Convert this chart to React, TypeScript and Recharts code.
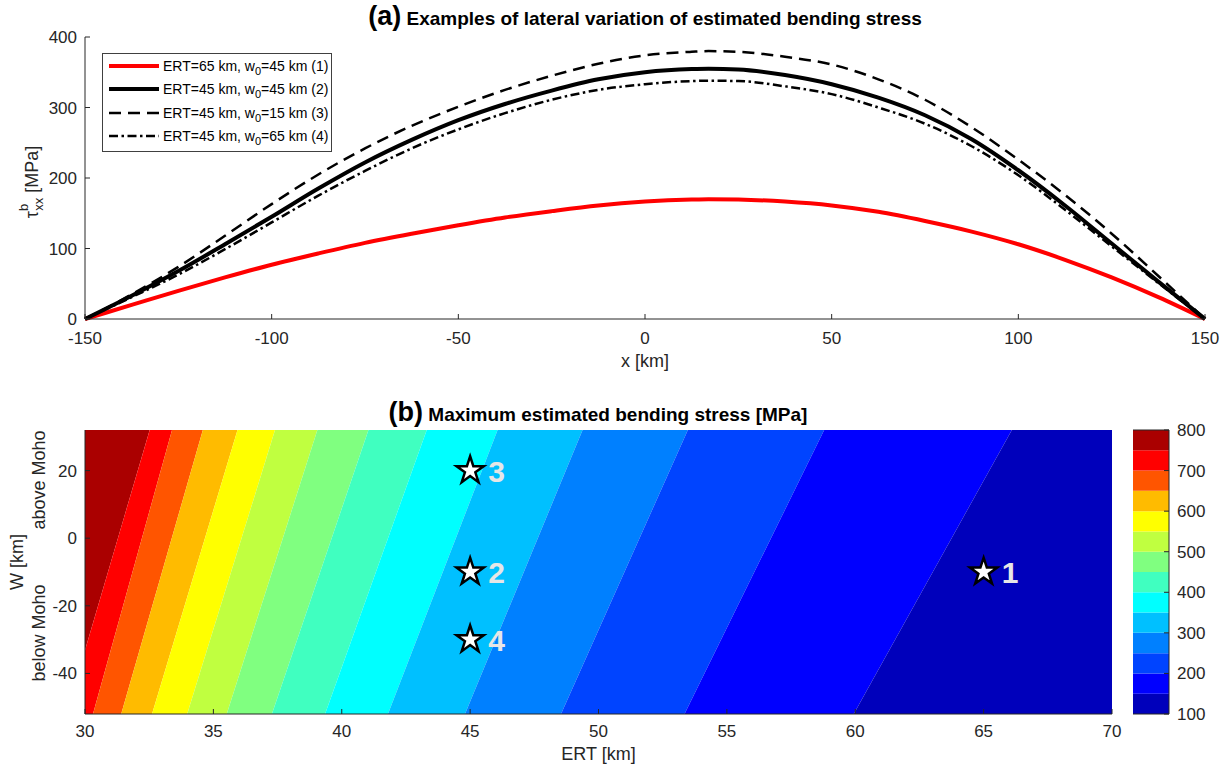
import React from "react";
import {
  LineChart,
  Line,
  XAxis,
  YAxis,
  Legend,
  ComposedChart,
  Area,
  Scatter,
  BarChart,
  Bar,
  ReferenceLine,
  Symbols,
} from "recharts";

const FONT = "Arial, 'Liberation Sans', Helvetica, sans-serif";
const INK = "#262626";

// (a) lateral profiles of bending stress [MPa] vs x [km]
const X_KM = [
  -150, -137.5, -125, -112.5, -100, -87.5, -75, -62.5, -50, -37.5, -25, -12.5, 0,
  12.5, 17, 25, 37.5, 50, 62.5, 75, 87.5, 100, 112.5, 125, 137.5, 150,
];
const TAU_1 = [0, 20, 40, 59, 77, 93, 108, 121, 133, 144, 153, 161, 166.5, 169.5, 170, 169.5, 166.5, 161, 152, 139, 124, 106, 84, 59, 31, 0];
const TAU_2 = [0, 33, 68, 106, 145, 185, 222, 254, 282, 305, 324, 340, 350, 354.5, 355, 354, 346, 333, 314, 289, 255, 211, 161, 107, 53, 0];
const TAU_3 = [0, 35, 74, 118, 163, 205, 242, 274, 301, 325, 345, 362, 374, 379, 380, 379, 372, 361, 340, 311, 272, 226, 176, 121, 61, 0];
const TAU_4 = [0, 31, 63, 99, 137, 175, 210, 242, 269, 292, 311, 325, 333, 337.5, 338, 337.5, 330, 319, 300, 277, 245, 204, 155, 103, 51, 0];
const X_TICKS = [-150, -100, -50, 0, 50, 100, 150];
const TAU_TICKS = [0, 100, 200, 300, 400];

const LEGEND_ERT = [65, 45, 45, 45];
const LEGEND_W0 = [45, 45, 15, 65];

// (b) contour boundaries (ERT km) at the bottom (W=-52) and top (W=32) of the panel, left to right
const W_ENDS = [-52, 32];
const EDGE_BOTTOM = [29.27, 30.31, 31.41, 32.61, 33.98, 35.52, 37.28, 39.35, 41.8, 44.8, 48.54, 53.35, 59.94];
const EDGE_TOP = [32.52, 33.39, 34.59, 35.94, 37.4, 39.05, 41.04, 43.31, 46.07, 49.38, 53.48, 58.79, 66.1];
const ERT_TICKS = [30, 35, 40, 45, 50, 55, 60, 65, 70];
const W_TICKS = [-40, -20, 0, 20];

const STAR_ERT = [65, 45, 45, 45];
const STAR_W = [-10, -10, 20, -30];
const STAR_LABEL = ["1", "2", "3", "4"];

// colour levels, low -> high
const LEVELS = [100, 150, 200, 250, 300, 350, 400, 450, 500, 550, 600, 650, 700, 750, 800];
const LEVEL_COLORS = [
  "#0000BB", "#0000FF", "#0044FF", "#0080FF", "#00C0FF", "#00FFFF", "#40FFC0",
  "#80FF80", "#C0FF40", "#FFFF00", "#FFBB00", "#FF5500", "#FF0000", "#AA0000",
];
const CB_TICKS = [100, 200, 300, 400, 500, 600, 700, 800];

const SERIES = [
  { key: "t1", color: "#ff0000", width: 4, dash: undefined as string | undefined },
  { key: "t2", color: "#000000", width: 4, dash: undefined },
  { key: "t3", color: "#000000", width: 2.5, dash: "12 7" },
  { key: "t4", color: "#000000", width: 2.5, dash: "9 3.5 2.5 3.5" },
];

const profileData = X_KM.map((x, i) => ({ x, t1: TAU_1[i], t2: TAU_2[i], t3: TAU_3[i], t4: TAU_4[i] }));

const NB = LEVEL_COLORS.length;
const contourData = W_ENDS.map((w, r) => {
  const edges = r === 0 ? EDGE_BOTTOM : EDGE_TOP;
  const row: Record<string, any> = { w };
  for (let j = 0; j < NB; j++) {
    const lo = j === 0 ? 20 : edges[j - 1];
    const hi = j === NB - 1 ? 80 : edges[j];
    row["b" + j] = [lo, hi];
  }
  return row;
});

const starData = STAR_ERT.map((ert, i) => ({ ert, w: STAR_W[i], label: STAR_LABEL[i] }));

const cbRow: Record<string, any> = { c: "cb", base: LEVELS[0] };
LEVEL_COLORS.forEach((_, i) => {
  cbRow["l" + i] = LEVELS[i + 1] - LEVELS[i];
});
const cbData = [cbRow];

const tickStyle = { fill: INK, fontSize: 17, fontFamily: FONT };

const ProfileLegend = () => (
  <div
    style={{
      border: "1px solid #404040",
      background: "#fff",
      width: 230,
      padding: "0 0 3px 0",
      fontFamily: FONT,
      fontSize: 14,
      color: "#000",
      boxSizing: "border-box",
    }}
  >
    {SERIES.map((s, i) => (
      <div key={s.key} style={{ display: "flex", alignItems: "center", height: 23.5 }}>
        <svg width={60} height={10} style={{ flex: "none" }}>
          <line x1={6} x2={56} y1={5} y2={5} stroke={s.color} strokeWidth={s.width} strokeDasharray={s.dash} />
        </svg>
        <span style={{ whiteSpace: "nowrap" }}>
          ERT={LEGEND_ERT[i]} km, w<sub style={{ fontSize: 11, lineHeight: 0 }}>0</sub>={LEGEND_W0[i]} km ({i + 1})
        </span>
      </div>
    ))}
  </div>
);

const TauLabel = () => (
  <text transform="translate(38,182) rotate(-90)" textAnchor="middle" fill={INK} fontFamily={FONT} fontSize={18}>
    <tspan>τ</tspan>
    <tspan fontSize={13} dy={-10}>b</tspan>
    <tspan fontSize={13} dx={-7} dy={15}>xx</tspan>
    <tspan dy={-5}> [MPa]</tspan>
  </text>
);

const WLabel = () => (
  <g fill={INK} fontFamily={FONT} fontSize={18}>
    <text transform="translate(23,162) rotate(-90)" textAnchor="middle">W [km]</text>
    <text transform="translate(45,80) rotate(-90)" textAnchor="middle">above Moho</text>
    <text transform="translate(45,233) rotate(-90)" textAnchor="middle">below Moho</text>
  </g>
);

const renderStar = (props: any) => {
  const { cx, cy, payload } = props;
  return (
    <g>
      <Symbols cx={cx} cy={cy} type="star" size={230} fill="#ffffff" stroke="#000000" strokeWidth={2.5} />
      <text x={cx + 18} y={cy + 11} fill="#e6e6e6" fontSize={30} fontWeight="bold" fontFamily={FONT}>
        {payload.label}
      </text>
    </g>
  );
};

export default function App() {
  return (
    <div style={{ position: "absolute", left: 0, top: 0, width: 1226, height: 769, background: "#fff" }}>
      {/* titles */}
      <svg width={1226} height={769} style={{ position: "absolute", left: 0, top: 0 }}>
        <text x={645} y={25} textAnchor="middle" fontFamily={FONT} fontWeight="bold" fill="#000">
          <tspan fontSize={27}>(a)</tspan>
          <tspan fontSize={19}> Examples of lateral variation of estimated bending stress</tspan>
        </text>
        <text x={598} y={421} textAnchor="middle" fontFamily={FONT} fontWeight="bold" fill="#000">
          <tspan fontSize={27}>(b)</tspan>
          <tspan fontSize={19}> Maximum estimated bending stress [MPa]</tspan>
        </text>
      </svg>

      {/* (a) */}
      <div style={{ position: "absolute", left: 0, top: 0 }}>
        <LineChart width={1226} height={380} data={profileData} margin={{ top: 37, right: 21, bottom: 1, left: 25 }}>
          <XAxis
            dataKey="x"
            type="number"
            domain={[-150, 150]}
            ticks={X_TICKS}
            interval={0}
            height={60}
            stroke={INK}
            tickSize={-5}
            tickMargin={18}
            tick={tickStyle}
            label={{ value: "x [km]", position: "insideBottom", offset: 12, fill: INK, fontSize: 18, fontFamily: FONT }}
          />
          <XAxis
            xAxisId="top"
            orientation="top"
            dataKey="x"
            type="number"
            domain={[-150, 150]}
            ticks={X_TICKS}
            height={0}
            stroke={INK}
            tickSize={-5}
            tick={false}
          />
          <YAxis
            type="number"
            domain={[0, 400]}
            ticks={TAU_TICKS}
            interval={0}
            width={60}
            stroke={INK}
            tickSize={-5}
            tickMargin={13}
            tick={tickStyle}
            label={<TauLabel />}
          />
          <YAxis
            yAxisId="right"
            orientation="right"
            type="number"
            domain={[0, 400]}
            ticks={TAU_TICKS}
            width={0}
            stroke={INK}
            tickSize={-5}
            tick={false}
          />
          <Legend
            layout="vertical"
            align="center"
            verticalAlign="middle"
            content={<ProfileLegend />}
            wrapperStyle={{ left: 102, top: 53, width: 230, height: 98 }}
          />
          {SERIES.map((s) => (
            <Line
              key={s.key}
              dataKey={s.key}
              type="monotone"
              stroke={s.color}
              strokeWidth={s.width}
              strokeDasharray={s.dash}
              dot={false}
              activeDot={false}
              isAnimationActive={false}
            />
          ))}
        </LineChart>
      </div>

      {/* (b) */}
      <div style={{ position: "absolute", left: 0, top: 400 }}>
        <ComposedChart
          layout="vertical"
          width={1226}
          height={369}
          data={contourData}
          margin={{ top: 30, right: 114, bottom: 5, left: 25 }}
        >
          <XAxis
            type="number"
            domain={[30, 70]}
            ticks={ERT_TICKS}
            interval={0}
            allowDataOverflow
            height={50}
            stroke={INK}
            tickSize={-5}
            tickMargin={16}
            tick={tickStyle}
            label={{ value: "ERT [km]", position: "insideBottom", offset: 4, fill: INK, fontSize: 18, fontFamily: FONT }}
          />
          <XAxis
            xAxisId="top"
            orientation="top"
            type="number"
            domain={[30, 70]}
            ticks={ERT_TICKS}
            allowDataOverflow
            height={0}
            stroke={INK}
            tickSize={-5}
            tick={false}
          />
          <YAxis
            type="number"
            dataKey="w"
            domain={[-52, 32]}
            ticks={W_TICKS}
            interval={0}
            reversed
            allowDataOverflow
            width={60}
            stroke={INK}
            tickSize={-5}
            tickMargin={13}
            tick={tickStyle}
            label={<WLabel />}
          />
          <YAxis
            yAxisId="right"
            orientation="right"
            type="number"
            dataKey="w"
            domain={[-52, 32]}
            ticks={W_TICKS}
            reversed
            allowDataOverflow
            width={0}
            stroke={INK}
            tickSize={-5}
            tick={false}
          />
          {LEVEL_COLORS.map((_, j) => (
            <Area
              key={"b" + j}
              dataKey={"b" + j}
              type="linear"
              fill={LEVEL_COLORS[NB - 1 - j]}
              fillOpacity={1}
              stroke="none"
              isAnimationActive={false}
            />
          ))}
          <Scatter data={starData} dataKey="ert" shape={renderStar} isAnimationActive={false} />
        </ComposedChart>
      </div>

      {/* colour bar */}
      <div style={{ position: "absolute", left: 1100, top: 400 }}>
        <BarChart
          width={126}
          height={369}
          data={cbData}
          margin={{ top: 30, right: 0, bottom: 55, left: 33 }}
          barCategoryGap={0}
        >
          <XAxis dataKey="c" hide />
          <YAxis
            orientation="right"
            type="number"
            domain={[100, 800]}
            ticks={CB_TICKS}
            interval={0}
            allowDataOverflow
            width={57}
            stroke={INK}
            tickSize={-5}
            tickMargin={13}
            tick={tickStyle}
          />
          <YAxis
            yAxisId="l"
            orientation="left"
            type="number"
            domain={[100, 800]}
            allowDataOverflow
            width={0}
            stroke={INK}
            tick={false}
            tickLine={false}
          />
          <Bar dataKey="base" stackId="cb" fill="none" isAnimationActive={false} />
          {LEVEL_COLORS.map((c, i) => (
            <Bar key={"l" + i} dataKey={"l" + i} stackId="cb" fill={c} isAnimationActive={false} />
          ))}
          <ReferenceLine y={800} stroke={INK} />
          <ReferenceLine y={100} stroke={INK} />
        </BarChart>
      </div>
    </div>
  );
}
